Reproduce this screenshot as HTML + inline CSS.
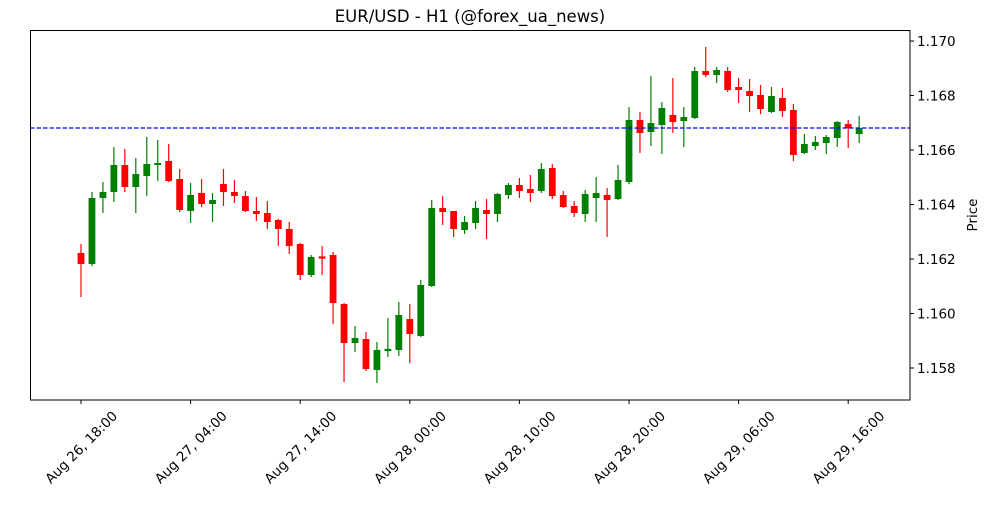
<!DOCTYPE html>
<html><head><meta charset="utf-8"><style>
body{margin:0;background:#fff;}
svg text{font-family:"DejaVu Sans","Liberation Sans",sans-serif;}
</style></head><body>
<svg id="s" width="1000" height="500" xmlns="http://www.w3.org/2000/svg">
<rect width="1000" height="500" fill="#fff"/>
<text x="470" y="22" font-size="16.5" text-anchor="middle">EUR/USD - H1 (@forex_ua_news)</text>
<g id="c"></g>
<line x1="30" y1="128" x2="910" y2="128" stroke="#0000ff" stroke-width="1.2" stroke-dasharray="4.5,2"/>
<rect x="30.5" y="30.5" width="879.5" height="369.5" fill="none" stroke="#000" stroke-width="1"/>
<g id="ax" font-size="13.5"></g>
<text transform="translate(977,215) rotate(-90)" font-size="13.5" text-anchor="middle">Price</text>
</svg>
<script>
var d=[
[253,264,244,297,0],[264,198,192,266,1],[198,192,182,213,1],[192,165,147,202,1],[165,187,149,192,0],
[187,174,158,213,1],[176,164,137,196,1],[165,163,140,181,1],[161,181,144,182,0],[179,210,169,212,0],
[211,195,183,223,1],[193,204,179,207,0],[204,200,193,222,1],[184,192,169,206,0],[192,196,180,203,0],
[196,211,191,212,0],[211,214,197,221,0],[213,222,201,229,0],[220,229,219,246,0],[229,246,222,254,0],
[244,275,243,280,0],[275,257,255,277,1],[257,258,246,275,0],[255,303,252,324,0],[304,343,303,382,0],
[343,338,326,352,1],[339,369,332,371,0],[370,350,342,383,1],[350.5,349.5,318,357,1],[350,315,302,356,1],
[319,334,304,363,0],[336,285,280,337,1],[286,208,200,287,1],[208,212,196,225,0],[211,229,211,237,0],
[230,222,216,234,1],[223,208,201,229,1],[210,214,199,239,0],[214,194,193,222,1],[195,185,183,199,1],
[185,191,178,198,0],[189,193,175,202,0],[191,169,163,193,1],[168,196,164,199,0],[195,207,191,208,0],
[206,213,201,217,0],[214,194,190,222,1],[198,193,177,222,1],[195,200,188,237,0],[199,180,165,200,1],
[182,120,107,184,1],[120,133,112,153,0],[132,123,76,146,1],[125,108,102,154,1],[115,122,78,133,0],
[121,117,107,147,1],[118,71,67,119,1],[71,75,47,77,0],[75,70,67,83,1],[71,90,67,92,0],
[87,90,78,103,0],[91,96,79,112,0],[95,109,85,114,0],[112,96,87,113,1],[98,111,88,117,0],
[110,155,104,161,0],[153,144,134,154,1],[146,142,136,150,1],[143,137,135,154,1],[138,122,121,147,1],
[124,128,120,148,0],[134,128,116,143,1]];
var h='';
d.forEach(function(c,i){var x=81+i*10.96;var col=c[4]?'#008000':'#ff0000';
var t=Math.min(c[0],c[1]),b=Math.max(c[0],c[1]);if(b-t<1.2){t-=0.6;b+=0.6;}
h+='<line x1="'+x+'" y1="'+c[2]+'" x2="'+x+'" y2="'+c[3]+'" stroke="'+col+'" stroke-width="1.2"/>';
h+='<rect x="'+(x-3.4)+'" y="'+t+'" width="6.8" height="'+(b-t)+'" fill="'+col+'"/>';});
document.getElementById('c').innerHTML=h;
var a='';
var yt=[[368,'1.158'],[313.5,'1.160'],[259,'1.162'],[204.5,'1.164'],[150,'1.166'],[95.5,'1.168'],[41,'1.170']];
yt.forEach(function(t){a+='<line x1="910" y1="'+t[0]+'" x2="914" y2="'+t[0]+'" stroke="#000"/><text x="917" y="'+(t[0]+5)+'">'+t[1]+'</text>';});
var xl=['Aug 26, 18:00','Aug 27, 04:00','Aug 27, 14:00','Aug 28, 00:00','Aug 28, 10:00','Aug 28, 20:00','Aug 29, 06:00','Aug 29, 16:00'];
xl.forEach(function(l,i){var x=81+i*109.6;a+='<line x1="'+x+'" y1="400" x2="'+x+'" y2="404" stroke="#000"/><text transform="translate('+x+',447) rotate(-45)" text-anchor="middle" y="5">'+l+'</text>';});
document.getElementById('ax').innerHTML=a;
</script>
</body></html>
